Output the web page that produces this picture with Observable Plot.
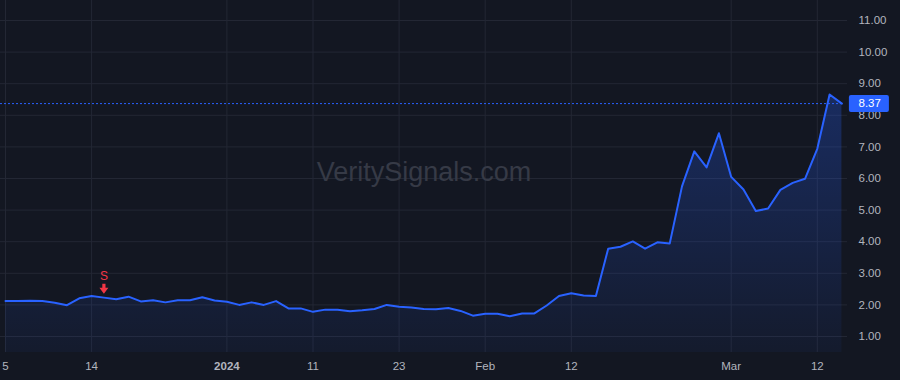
<!DOCTYPE html>
<html>
<head>
<meta charset="utf-8">
<script src="https://cdn.jsdelivr.net/npm/d3@7"></script>
<script src="https://cdn.jsdelivr.net/npm/@observablehq/plot@0.6"></script>
<style>
  html, body { margin: 0; padding: 0; background: #131722; }
  #chart { width: 900px; height: 380px; }
</style>
</head>
<body>
<div id="chart"></div>
<script>
const dates = [
  "2023-12-05","2023-12-06","2023-12-07","2023-12-08","2023-12-11","2023-12-12","2023-12-13","2023-12-14","2023-12-15",
  "2023-12-18","2023-12-19","2023-12-20","2023-12-21","2023-12-22","2023-12-26","2023-12-27","2023-12-28","2023-12-29",
  "2024-01-02","2024-01-03","2024-01-04","2024-01-05","2024-01-08","2024-01-09","2024-01-10","2024-01-11","2024-01-12",
  "2024-01-16","2024-01-17","2024-01-18","2024-01-19","2024-01-22","2024-01-23","2024-01-24","2024-01-25","2024-01-26",
  "2024-01-29","2024-01-30","2024-01-31","2024-02-01","2024-02-02","2024-02-05","2024-02-06","2024-02-07","2024-02-08",
  "2024-02-09","2024-02-12","2024-02-13","2024-02-14","2024-02-15","2024-02-16","2024-02-20","2024-02-21","2024-02-22",
  "2024-02-23","2024-02-26","2024-02-27","2024-02-28","2024-02-29","2024-03-01","2024-03-04","2024-03-05","2024-03-06",
  "2024-03-07","2024-03-08","2024-03-11","2024-03-12","2024-03-13","2024-03-14"
];
const values = [
  2.12,2.12,2.13,2.12,2.07,1.99,2.21,2.28,2.23,
  2.18,2.26,2.11,2.15,2.08,2.15,2.15,2.24,2.14,
  2.10,2.00,2.08,2.00,2.12,1.89,1.89,1.78,1.85,
  1.85,1.80,1.83,1.87,2.00,1.94,1.92,1.87,1.86,
  1.90,1.81,1.66,1.72,1.72,1.64,1.73,1.73,1.98,
  2.28,2.37,2.30,2.28,3.78,3.84,4.01,3.78,3.98,
  3.94,5.75,6.86,6.35,7.43,6.05,5.65,4.97,5.05,
  5.64,5.86,5.99,6.94,8.66,8.37
];
const tickDates = ["2023-12-05","2023-12-14","2024-01-02","2024-01-11","2024-01-23","2024-02-01","2024-02-12","2024-03-01","2024-03-12"];
const tickLabels = ["5","14","2024","11","23","Feb","12","Mar","12"];
const boldTickLabels = ["2024"];
const yTicks = [1,2,3,4,5,6,7,8,9,10,11];
const signalDates = ["2023-12-15"];
const signalLabels = ["S"];
const watermark = "VeritySignals.com";

// table built from the arrays
const data = dates.map((d, i) => ({i, date: d, v: values[i]}));
const idxOf = d => dates.indexOf(d);
const tickIdx = tickDates.map(idxOf);
const labelOf = new Map(tickIdx.map((t, k) => [t, tickLabels[k]]));
const normalTicks = tickIdx.filter(t => !boldTickLabels.includes(labelOf.get(t)));
const boldTicks = tickIdx.filter(t => boldTickLabels.includes(labelOf.get(t)));
const signals = signalDates.map((d, k) => ({...data[idxOf(d)], label: signalLabels[k]}));
const last = data[data.length - 1];

const yDomain = [1 - 16/31.6, 11 + 20/31.6];
const xDomain = [-5/12.3, 842/12.3];

const arrowDown = {
  draw(ctx) {
    ctx.moveTo(-1.6, -5);
    ctx.lineTo(1.6, -5);
    ctx.lineTo(1.6, -1);
    ctx.lineTo(4.5, -1);
    ctx.lineTo(0, 5);
    ctx.lineTo(-4.5, -1);
    ctx.lineTo(-1.6, -1);
    ctx.closePath();
  }
};
const labelBox = {
  draw(ctx) {
    const w = 20, h = 8.5, r = 2;
    ctx.moveTo(-w + r, -h);
    ctx.lineTo(w - r, -h);
    ctx.arcTo(w, -h, w, -h + r, r);
    ctx.lineTo(w, h - r);
    ctx.arcTo(w, h, w - r, h, r);
    ctx.lineTo(-w + r, h);
    ctx.arcTo(-w, h, -w, h - r, r);
    ctx.lineTo(-w, -h + r);
    ctx.arcTo(-w, -h, -w + r, -h, r);
    ctx.closePath();
  }
};

const defs = () => {
  const d = d3.create("svg:defs");
  const g = d.append("linearGradient").attr("id", "areaGrad")
    .attr("x1", 0).attr("y1", 0).attr("x2", 0).attr("y2", 1);
  g.append("stop").attr("offset", "0%").attr("stop-color", "#2962ff").attr("stop-opacity", 0.28);
  g.append("stop").attr("offset", "100%").attr("stop-color", "#2962ff").attr("stop-opacity", 0.05);
  return d.node();
};

const gridColor = "#232734";
const textColor = "#b2b5be";

const chart = Plot.plot({
  width: 900,
  height: 380,
  marginLeft: 0,
  marginRight: 53,
  marginTop: 0,
  marginBottom: 28,
  style: {background: "#131722", color: textColor, fontFamily: "'Liberation Sans', Arial, sans-serif", fontSize: "11.5px"},
  x: {type: "linear", domain: xDomain, axis: null},
  y: {type: "linear", domain: yDomain, axis: null},
  marks: [
    defs,
    Plot.gridY({ticks: yTicks, stroke: gridColor, strokeOpacity: 1}),
    Plot.gridX({ticks: tickIdx, stroke: gridColor, strokeOpacity: 1}),
    Plot.text([watermark], {frameAnchor: "middle", dy: -4, fontSize: 27, fill: "#363a46", fontFamily: "'Liberation Sans', Arial, sans-serif"}),
    Plot.areaY(data, {x: "i", y1: yDomain[0], y2: "v", fill: "url(#areaGrad)"}),
    Plot.ruleY([last], {y: "v", x1: xDomain[0], x2: last.i, stroke: "#2962ff", strokeWidth: 1, strokeDasharray: "2,2"}),
    Plot.line(data, {x: "i", y: "v", stroke: "#2962ff", strokeWidth: 2}),
    Plot.text(signals, {x: "i", y: "v", text: "label", fill: "#f23645", fontSize: 12, lineAnchor: "bottom", dy: -18}),
    Plot.dot(signals, {x: "i", y: "v", symbol: arrowDown, fill: "#f23645", stroke: null, dy: -9}),
    Plot.axisX({ticks: normalTicks, tickFormat: t => labelOf.get(t), tickSize: 0, tickPadding: 9, fill: textColor, label: null}),
    Plot.axisX({ticks: boldTicks, tickFormat: t => labelOf.get(t), tickSize: 0, tickPadding: 9, fill: textColor, fontWeight: "bold", label: null}),
    Plot.axisY({anchor: "right", ticks: yTicks, tickFormat: d => d.toFixed(2), tickSize: 0, tickPadding: 11, fill: textColor, label: null}),
    Plot.dot([last], {x: "i", y: "v", symbol: labelBox, fill: "#2962ff", stroke: null, dx: 27}),
    Plot.text([last], {x: "i", y: "v", text: d => d.v.toFixed(2), fill: "#ffffff", textAnchor: "start", dx: 16.6, fontSize: 11.5})
  ]
});
document.getElementById("chart").appendChild(chart);
</script>
</body>
</html>
